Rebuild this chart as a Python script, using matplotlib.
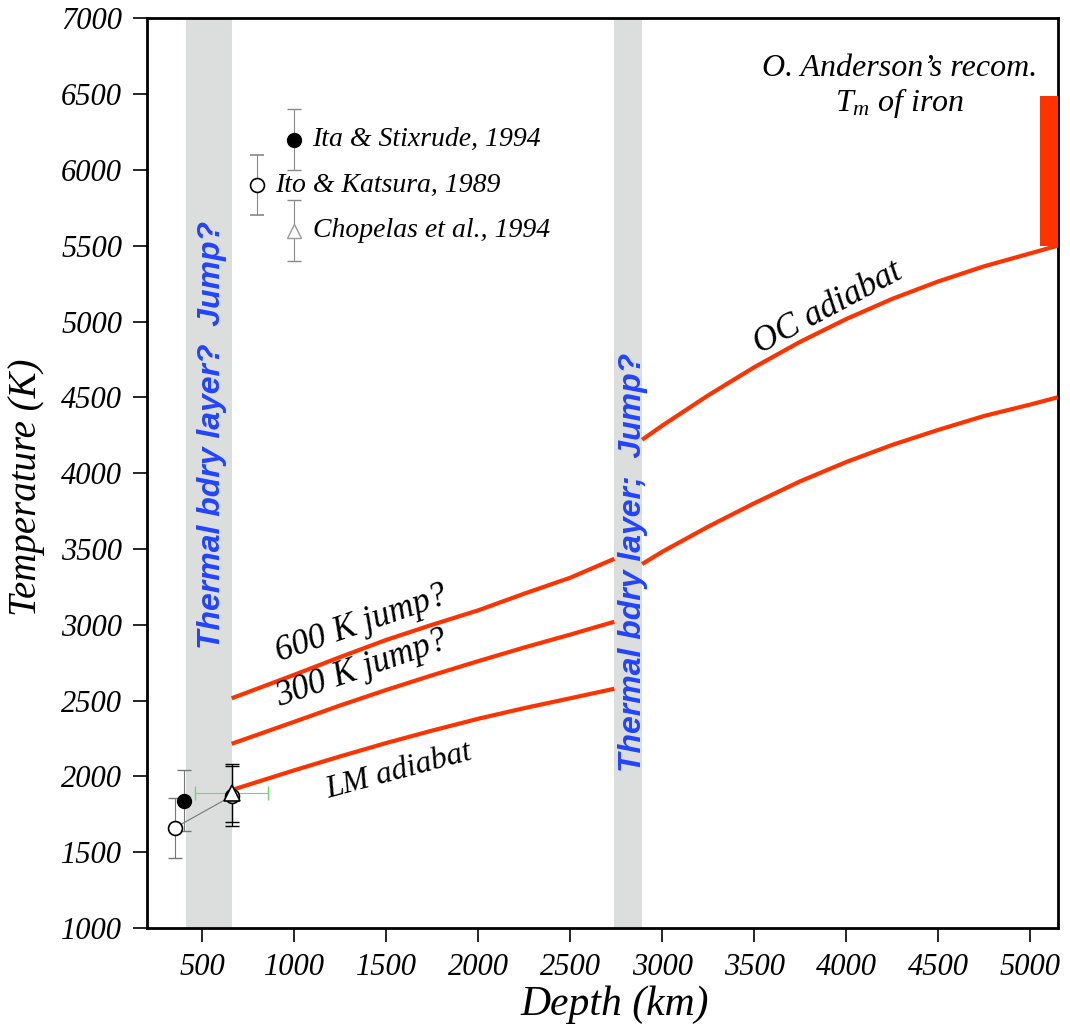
import matplotlib
matplotlib.use('Agg')
import matplotlib.pyplot as plt

plt.rcParams['font.family'] = 'Liberation Serif'
plt.rcParams['font.style'] = 'italic'
plt.rcParams['mathtext.fontset'] = 'custom'
plt.rcParams['mathtext.rm'] = 'Liberation Serif:italic'
plt.rcParams['mathtext.it'] = 'Liberation Serif:italic'

# 下地幔绝热线 (深度 km, 温度 K)
lm_depth = [660, 1000, 1250, 1500, 1750, 2000, 2250, 2500, 2740]
lm_adiabat = [1910, 2040, 2132, 2220, 2302, 2380, 2450, 2515, 2578]
jump300 = [2215, 2360, 2468, 2570, 2667, 2760, 2850, 2935, 3020]
jump600 = [2515, 2670, 2787, 2900, 3000, 3095, 3205, 3310, 3435]

# 外核绝热线
oc_depth = [2891, 3000, 3250, 3500, 3750, 4000, 4250, 4500, 4750, 5000, 5150]
oc_adiabat = [4220, 4313, 4513, 4698, 4866, 5016, 5149, 5264, 5364, 5449, 5500]
oc_lower = [3400, 3481, 3647, 3801, 3946, 4073, 4186, 4285, 4377, 4452, 4500]

# 灰色热边界层
tbl_upper = (410, 660)
tbl_lower = (2740, 2891)

# Anderson 铁熔点
tm_iron = (5500, 6490)
tm_depth = (5055, 5150)

# 实验数据点
ito_depth = [350, 660]
ito_temp = [1660, 1870]
ito_err = [200, 200]
ita_depth = [400]
ita_temp = [1840]
ita_err = [200]
chop_depth = [660]
chop_temp = [1890]
chop_err = [190]
chop_xerr = [200]

red = '#ff3300'
blue = '#2244ff'

fig = plt.figure(figsize=(10.7, 10.31), dpi=100)
ax = fig.add_axes([0.1374, 0.0999, 0.8511, 0.8824])

ax.axvspan(*tbl_upper, color='#dcdddd', lw=0, zorder=0)
ax.axvspan(*tbl_lower, color='#dcdddd', lw=0, zorder=0)

for t in [lm_adiabat, jump300, jump600]:
    ax.plot(lm_depth, t, color=red, lw=3, solid_capstyle='butt', zorder=3)
for t in [oc_adiabat, oc_lower]:
    ax.plot(oc_depth, t, color=red, lw=3, solid_capstyle='butt', zorder=3)

ax.fill_between(tm_depth, tm_iron[0], tm_iron[1], color=red, lw=0, zorder=3)

# 数据点
ax.plot(ito_depth, ito_temp, color='#777777', lw=0.8, zorder=4)
ax.errorbar(ito_depth[0], ito_temp[0], yerr=ito_err[0], fmt='none', ecolor='#777777',
            elinewidth=0.8, capsize=5, zorder=4)
ax.errorbar(ita_depth, ita_temp, yerr=ita_err, fmt='none', ecolor='#777777',
            elinewidth=0.8, capsize=5, zorder=4)
ax.errorbar(660, 1870, yerr=200, fmt='none', ecolor='black',
            elinewidth=0.9, capsize=5, zorder=4)
ax.errorbar(chop_depth, chop_temp, yerr=chop_err, fmt='none', ecolor='black',
            elinewidth=0.9, capsize=5, zorder=4)
ax.errorbar(chop_depth, chop_temp, xerr=chop_xerr, fmt='none', ecolor='#66dd66',
            elinewidth=0.8, capsize=5, zorder=4)
ax.plot(ito_depth, ito_temp, 'o', ms=10, mfc='white', mec='black', mew=1.2, zorder=5)
ax.plot(ita_depth, ita_temp, 'o', ms=10, mfc='black', mec='black', zorder=5)
ax.plot(chop_depth, chop_temp, '^', ms=11, mfc='white', mec='black', mew=1.2, zorder=6)

# 图例
ax.errorbar(1000, 6200, yerr=200, fmt='o', ms=10, mfc='black', mec='black',
            ecolor='#888888', elinewidth=0.8, capsize=5)
ax.errorbar(800, 5900, yerr=200, fmt='o', ms=10, mfc='white', mec='black', mew=1.2,
            ecolor='#888888', elinewidth=0.8, capsize=5)
ax.errorbar(1000, 5600, yerr=200, fmt='^', ms=10, mfc='white', mec='#999999', mew=1,
            ecolor='#888888', elinewidth=0.8, capsize=5)
ax.text(1100, 6200, 'Ita & Stixrude, 1994', fontsize=20, va='center')
ax.text(895, 5900, 'Ito & Katsura, 1989', fontsize=20, va='center')
ax.text(1100, 5600, 'Chopelas et al., 1994', fontsize=20, va='center')

ax.text(4293, 6670, "O. Anderson\u2019s recom.", fontsize=23, ha='center', va='center')
ax.text(4293, 6440, "$T_m$ of iron", fontsize=23, ha='center', va='center')

# 曲线注释
ax.text(1368, 3005, '600 K jump?', fontsize=25, rotation=19, ha='center', va='center')
ax.text(1368, 2705, '300 K jump?', fontsize=25, rotation=19, ha='center', va='center')
ax.text(1570, 2035, 'LM adiabat', fontsize=23, rotation=15, ha='center', va='center')
ax.text(3900, 5085, 'OC adiabat', fontsize=25, rotation=28, ha='center', va='center')

ax.text(553, 4250, 'Thermal bdry layer?  Jump?', fontsize=23, rotation=90,
        ha='center', va='center', color=blue, family='Liberation Sans',
        weight='bold', style='italic')
ax.text(2841, 3413, 'Thermal bdry layer;  Jump?', fontsize=23, rotation=90,
        ha='center', va='center', color=blue, family='Liberation Sans',
        weight='bold', style='italic')

ax.set_xlim(200, 5150)
ax.set_ylim(1000, 7000)
ax.set_xticks(range(500, 5001, 500))
ax.set_yticks(range(1000, 7001, 500))
ax.tick_params(direction='out', length=10, width=1.2, labelsize=22, pad=8)
for s in ax.spines.values():
    s.set_linewidth(2)
ax.set_xlabel('Depth (km)', fontsize=30)
ax.set_ylabel('Temperature (K)', fontsize=28)
ax.xaxis.set_label_coords(0.514, -0.063)
ax.yaxis.set_label_coords(-0.112, 0.484)

fig.savefig('out.png', dpi=100)
